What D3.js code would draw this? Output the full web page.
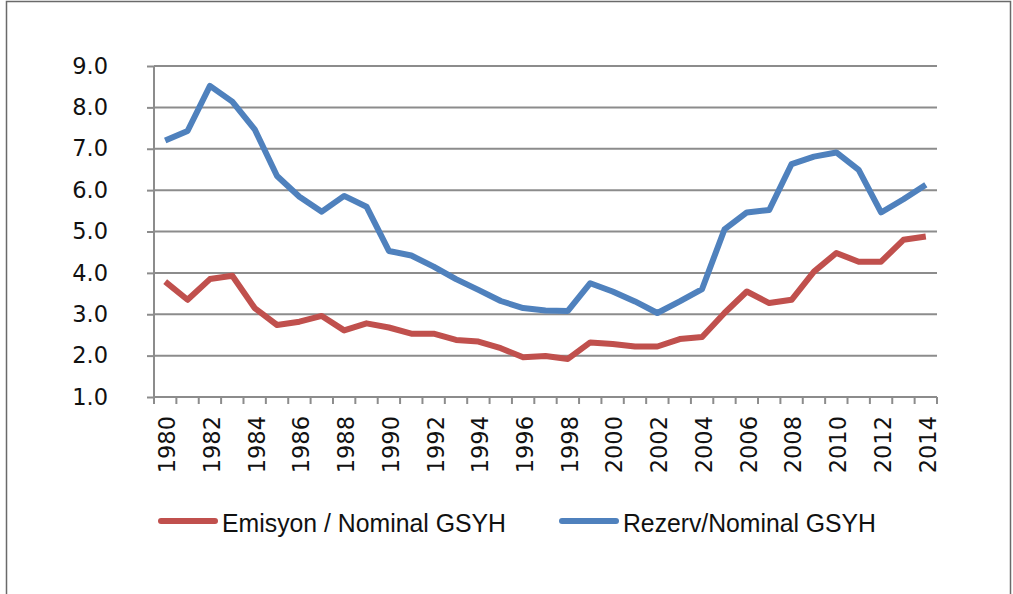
<!DOCTYPE html>
<html>
<head>
<meta charset="utf-8">
<script src="https://cdn.jsdelivr.net/npm/d3@7"></script>
<style>
  body { margin: 0; background: #fff; }
  svg { display: block; }
</style>
</head>
<body>
<svg id="chart" width="1013" height="594"></svg>
<script>
// data
const years = d3.range(1980, 2015);
const emisyon = [3.79, 3.35, 3.85, 3.93, 3.15, 2.74, 2.82, 2.96, 2.61, 2.78,
                 2.68, 2.53, 2.53, 2.38, 2.34, 2.18, 1.96, 1.99, 1.92, 2.32,
                 2.28, 2.22, 2.22, 2.40, 2.45, 3.03, 3.55, 3.27, 3.35, 4.03,
                 4.48, 4.27, 4.27, 4.80, 4.88];
const rezerv = [7.20, 7.43, 8.52, 8.14, 7.47, 6.34, 5.84, 5.48, 5.86, 5.60,
                4.53, 4.42, 4.15, 3.85, 3.59, 3.32, 3.15, 3.09, 3.08, 3.75,
                3.55, 3.31, 3.03, 3.31, 3.61, 5.05, 5.46, 5.52, 6.63, 6.81,
                6.91, 6.49, 5.46, 5.78, 6.13];
const yTicks = [1, 2, 3, 4, 5, 6, 7, 8, 9];
const yearLabels = years.filter((y, i) => i % 2 === 0);
const series = [
    {name: 'Emisyon / Nominal GSYH', values: emisyon, color: '#C0504D', legendX: 161, textLen: 284},
    {name: 'Rezerv/Nominal GSYH', values: rezerv, color: '#4F81BD', legendX: 562, textLen: 253}
];

const svg = d3.select('#chart');
const plot = {left: 154, right: 937, top: 66, bottom: 397};

// outer frame
svg.append('rect')
    .attr('x', 6.5).attr('y', 1.5)
    .attr('width', 1004).attr('height', 600)
    .attr('fill', 'none')
    .attr('stroke', '#6a6a6a')
    .attr('stroke-width', 1.5);

const x = d3.scaleBand().domain(years).range([plot.left, plot.right]);
const y = d3.scaleLinear().domain([1, 9]).range([plot.bottom, plot.top]);

// gridlines
svg.append('g')
    .selectAll('line')
    .data(yTicks.slice(1))
    .join('line')
    .attr('x1', plot.left).attr('x2', plot.right)
    .attr('y1', d => y(d)).attr('y2', d => y(d))
    .attr('stroke', '#8c8c8c')
    .attr('stroke-width', 2);

// y axis
const yAxis = svg.append('g')
    .attr('transform', `translate(${plot.left},0)`)
    .call(d3.axisLeft(y).tickValues(yTicks).tickFormat(d3.format('.1f')).tickSize(7).tickPadding(39));
yAxis.select('.domain').remove();
yAxis.append('line')
    .attr('x1', 0).attr('x2', 0).attr('y1', plot.top).attr('y2', plot.bottom)
    .attr('stroke', '#8c8c8c').attr('stroke-width', 2);
yAxis.selectAll('.tick line').attr('stroke', '#8c8c8c').attr('stroke-width', 2);
yAxis.selectAll('.tick text')
    .attr('font-family', 'DejaVu Sans')
    .attr('font-size', 22.5)
    .attr('fill', '#111');

// x axis
const xAxis = svg.append('g').attr('transform', `translate(0,${plot.bottom})`);
xAxis.append('line')
    .attr('x1', plot.left).attr('x2', plot.right)
    .attr('stroke', '#8c8c8c').attr('stroke-width', 2);
xAxis.selectAll('line.tk')
    .data(years.concat([null]))
    .join('line')
    .attr('class', 'tk')
    .attr('x1', (d, i) => plot.left + i * x.step())
    .attr('x2', (d, i) => plot.left + i * x.step())
    .attr('y1', 0).attr('y2', 7)
    .attr('stroke', '#8c8c8c').attr('stroke-width', 2);
xAxis.selectAll('text')
    .data(yearLabels)
    .join('text')
    .attr('transform', d => `translate(${x(d) + x.bandwidth() / 2 + 2},19) rotate(-90)`)
    .attr('text-anchor', 'end')
    .attr('dy', '0.35em')
    .attr('font-family', 'DejaVu Sans')
    .attr('font-size', 22.5)
    .attr('fill', '#111')
    .text(d => d);

// lines
const line = d3.line()
    .x((d, i) => x(years[i]) + x.bandwidth() / 2)
    .y(d => y(d));

svg.append('g')
    .selectAll('path')
    .data(series)
    .join('path')
    .attr('d', s => line(s.values))
    .attr('fill', 'none')
    .attr('stroke', s => s.color)
    .attr('stroke-width', 6)
    .attr('stroke-linejoin', 'round');

// legend
const legend = svg.append('g').attr('transform', 'translate(0,521)');
legend.selectAll('line')
    .data(series)
    .join('line')
    .attr('x1', s => s.legendX).attr('x2', s => s.legendX + 54)
    .attr('stroke', s => s.color)
    .attr('stroke-width', 6)
    .attr('stroke-linecap', 'round');
legend.selectAll('text')
    .data(series)
    .join('text')
    .attr('x', s => s.legendX + 61)
    .attr('y', 11)
    .attr('font-family', 'Liberation Sans')
    .attr('font-size', 25.5)
    .attr('fill', '#111')
    .attr('textLength', s => s.textLen)
    .attr('lengthAdjust', 'spacingAndGlyphs')
    .text(s => s.name);
</script>
</body>
</html>
